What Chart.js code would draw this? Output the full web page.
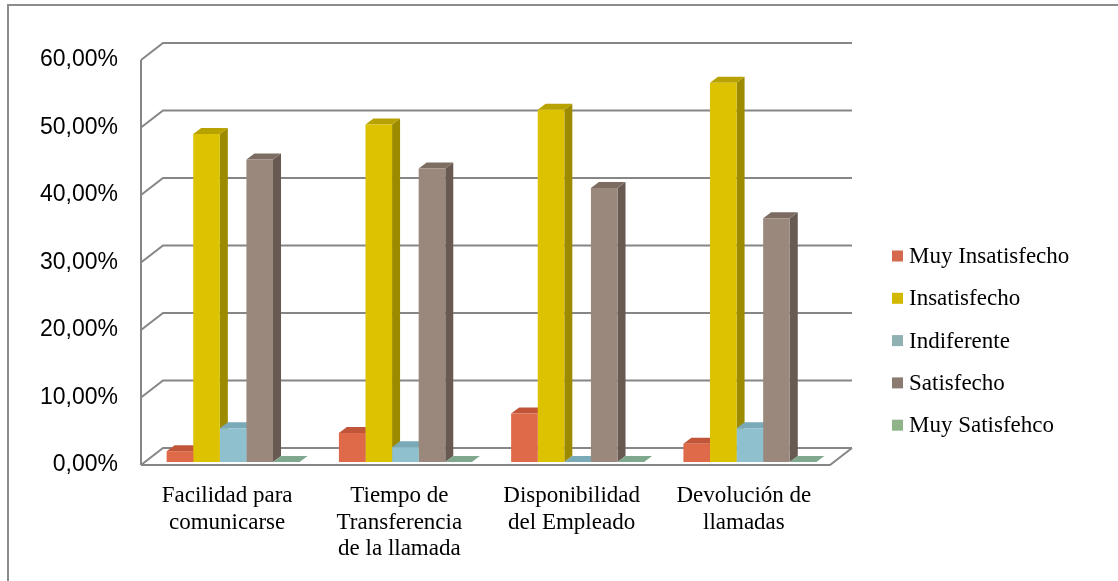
<!DOCTYPE html>
<html>
<head>
<meta charset="utf-8">
<script src="https://cdn.jsdelivr.net/npm/chart.js@4/dist/chart.umd.min.js"></script>
<style>
  body { margin: 0; background: #fff; }
  #wrap { width: 1118px; height: 581px; }
</style>
</head>
<body>
<div id="wrap"><canvas id="myChart" width="1118" height="581"></canvas></div>
<script>
// datos del grafico
var categorias = [
  ['Facilidad para', 'comunicarse'],
  ['Tiempo de', 'Transferencia', 'de la llamada'],
  ['Disponibilidad', 'del Empleado'],
  ['Devolución de', 'llamadas']
];
var series = ['Muy Insatisfecho', 'Insatisfecho', 'Indiferente', 'Satisfecho', 'Muy Satisfehco'];
var muyInsatisfecho = [1.6, 4.3, 7.2, 2.7];
var insatisfecho = [48.6, 50.0, 52.2, 56.2];
var indiferente = [5.0, 2.2, 0, 5.0];
var satisfecho = [44.8, 43.5, 40.6, 36.1];
var muySatisfecho = [0, 0, 0, 0];
var yTicks = [0, 10, 20, 30, 40, 50, 60];

// colores (frente, lado, arriba, leyenda)
var colFrente = ['#DE6A4A', '#DCC200', '#8EC0CE', '#9A887D', '#7E9E84'];
var colLado = ['#A8442E', '#9C8A00', '#6A97A3', '#685A52', '#5E7E66'];
var colArriba = ['#C0553A', '#B8A200', '#7AAAB8', '#7C6C62', '#7FA88F'];
var colLeyenda = ['#D4694D', '#D2B800', '#8FB1B2', '#8C7B70', '#8FB48A'];

var valores = [muyInsatisfecho, insatisfecho, indiferente, satisfecho, muySatisfecho];

// desplazamientos 3D
var paredX = 22, paredY = -17;   // pared del fondo
var barraX = 6, barraY = -3;     // plano de las barras
var profX = 8, profY = -6;       // profundidad de cada barra
var gris = '#868686';

var efecto3d = {
  id: 'efecto3d',
  beforeDraw: function(chart) {
    var ctx = chart.ctx;
    var x = chart.scales.x, y = chart.scales.y;
    ctx.save();
    ctx.fillStyle = '#fff';
    ctx.fillRect(0, 0, chart.width, chart.height);
    // borde exterior (solo arriba e izquierda, la imagen esta recortada)
    ctx.strokeStyle = '#8c8c8c';
    ctx.lineWidth = 2;
    ctx.beginPath();
    ctx.moveTo(8, chart.height);
    ctx.lineTo(8, 5);
    ctx.lineTo(chart.width, 5);
    ctx.stroke();

    var izq = x.left, der = x.right;
    ctx.strokeStyle = gris;
    ctx.lineWidth = 2;
    // lineas de la pared y diagonales
    yTicks.forEach(function(v) {
      var py = y.getPixelForValue(v);
      ctx.beginPath();
      ctx.moveTo(izq, py);
      ctx.lineTo(izq + paredX, py + paredY);
      ctx.lineTo(der + paredX, py + paredY);
      ctx.stroke();
    });
    // eje vertical frontal
    ctx.beginPath();
    ctx.moveTo(izq, y.getPixelForValue(60));
    ctx.lineTo(izq, y.getPixelForValue(0));
    ctx.stroke();
    // piso
    var p0 = y.getPixelForValue(0);
    ctx.beginPath();
    ctx.moveTo(izq, p0);
    ctx.lineTo(der, p0);
    ctx.lineTo(der + paredX, p0 + paredY);
    ctx.stroke();
    ctx.restore();
  },
  beforeDatasetsDraw: function(chart) {
    var ctx = chart.ctx;
    ctx.save();
    ctx.translate(barraX, barraY);
    for (var c = 0; c < categorias.length; c++) {
      for (var d = 0; d < series.length; d++) {
        var bar = chart.getDatasetMeta(d).data[c];
        var l = bar.x - bar.width / 2, r = bar.x + bar.width / 2;
        var t = bar.y, b = bar.base;
        // lado
        ctx.fillStyle = colLado[d];
        ctx.beginPath();
        ctx.moveTo(r, t);
        ctx.lineTo(r + profX, t + profY);
        ctx.lineTo(r + profX, b + profY);
        ctx.lineTo(r, b);
        ctx.closePath();
        ctx.fill();
        // arriba
        ctx.fillStyle = colArriba[d];
        ctx.beginPath();
        ctx.moveTo(l, t);
        ctx.lineTo(r, t);
        ctx.lineTo(r + profX, t + profY);
        ctx.lineTo(l + profX, t + profY);
        ctx.closePath();
        ctx.fill();
      }
    }
  },
  afterDatasetsDraw: function(chart) {
    chart.ctx.restore();
  },
  afterDraw: function(chart) {
    // leyenda
    var ctx = chart.ctx;
    ctx.save();
    ctx.font = '23px "Liberation Serif", "Times New Roman", serif';
    ctx.textBaseline = 'middle';
    ctx.textAlign = 'left';
    for (var i = 0; i < series.length; i++) {
      var cy = 256 + i * 42.3;
      ctx.fillStyle = colLeyenda[i];
      ctx.fillRect(892, cy - 5.5, 11, 11);
      ctx.fillStyle = '#000';
      ctx.fillText(series[i], 909, cy + 1);
    }
    ctx.restore();
  }
};

var datasets = series.map(function(s, i) {
  return {
    label: s,
    data: valores[i],
    backgroundColor: colFrente[i],
    borderWidth: 0,
    clip: false
  };
});

var ctx = document.getElementById('myChart').getContext('2d');
var myChart = new Chart(ctx, {
  type: 'bar',
  data: { labels: categorias, datasets: datasets },
  options: {
    responsive: false,
    animation: false,
    layout: { padding: { left: 0, right: 288, top: 60, bottom: 0 } },
    plugins: { legend: { display: false }, tooltip: { enabled: false } },
    datasets: { bar: { categoryPercentage: 0.772, barPercentage: 1 } },
    scales: {
      x: {
        grid: { display: false, drawTicks: false },
        border: { display: false },
        afterFit: function(scale) { scale.height = 116; },
        ticks: {
          padding: 18,
          color: '#000',
          maxRotation: 0,
          autoSkip: false,
          font: { family: '"Liberation Serif", "Times New Roman", serif', size: 23, lineHeight: 1.15 }
        }
      },
      y: {
        min: 0,
        max: 60,
        grid: { display: false, drawTicks: false },
        border: { display: false },
        afterFit: function(scale) { scale.width = 141; },
        ticks: {
          stepSize: 10,
          padding: 23,
          color: '#000',
          font: { family: '"Liberation Sans", Arial, sans-serif', size: 23 },
          callback: function(v) { return v.toFixed(2).replace('.', ',') + '%'; }
        }
      }
    }
  },
  plugins: [efecto3d]
});
</script>
</body>
</html>
